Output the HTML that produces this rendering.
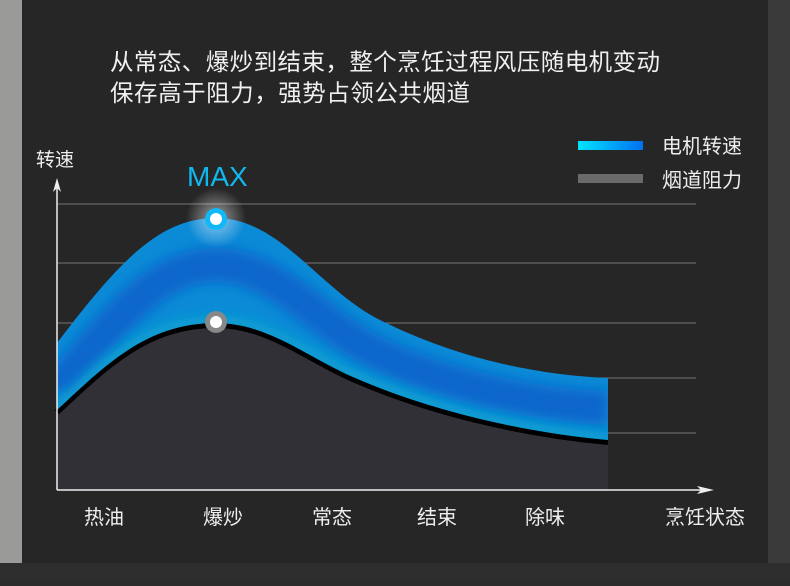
<!DOCTYPE html>
<html><head><meta charset="utf-8"><style>
body{margin:0;width:790px;height:581px;overflow:hidden;background:#2c2c2c;font-family:"Liberation Sans","Noto Sans CJK SC",sans-serif}
</style></head><body>
<svg width="790" height="581" viewBox="0 0 790 581" xmlns="http://www.w3.org/2000/svg">
<defs>
<radialGradient id="glow" cx="0.5" cy="0.5" r="0.5">
<stop offset="0" stop-color="#fff" stop-opacity="0.55"/>
<stop offset="1" stop-color="#fff" stop-opacity="0"/>
</radialGradient>
<linearGradient id="leg" x1="0" x2="1"><stop offset="0" stop-color="#00e4ff"/><stop offset="1" stop-color="#0070f0"/></linearGradient>
<filter id="bl" filterUnits="userSpaceOnUse" x="0" y="150" width="700" height="350"><feGaussianBlur stdDeviation="6"/></filter>
<clipPath id="band"><path d="M57,343 C120,260 160,218 216,218 C280,218 320,290 380,320 C450,355 530,375 608,378 L608,440 C520,432 430,410 360,380 C310,360 270,323 216,323 C150,323 110,360 57,410 Z"/></clipPath>
</defs>
<rect x="0" y="0" width="22" height="581" fill="#9a9a98"/>
<rect x="768" y="0" width="22" height="581" fill="#3a3a3a"/>
<rect x="0" y="563" width="790" height="18" fill="#2e2e2e"/>
<rect x="22" y="0" width="746" height="563" fill="#262626"/>
<text x="110" y="70" fill="#f0f0f0" font-size="23.5" textLength="550">从常态、爆炒到结束，整个烹饪过程风压随电机变动</text>
<text x="110" y="101" fill="#f0f0f0" font-size="23.5" textLength="360">保存高于阻力，强势占领公共烟道</text>
<text x="36" y="166" fill="#eee" font-size="19">转速</text>
<text x="187" y="186" fill="#11b8f0" font-size="28">MAX</text>
<rect x="578" y="141" width="65" height="9" fill="url(#leg)"/>
<rect x="578" y="174" width="65" height="9" fill="#6a6a6a"/>
<text x="662" y="153" fill="#eee" font-size="20">电机转速</text>
<text x="662" y="187" fill="#eee" font-size="20">烟道阻力</text>
<g stroke="#777" stroke-width="1">
<line x1="57" y1="204" x2="696" y2="204"/><line x1="57" y1="263" x2="696" y2="263"/>
<line x1="57" y1="323" x2="696" y2="323"/><line x1="57" y1="378" x2="696" y2="378"/>
<line x1="57" y1="433" x2="696" y2="433"/></g>
<path d="M57,413 C110,363 150,326 216,326 C270,326 310,363 360,383 C430,413 520,435 608,443 L608,490 L57,490 Z" fill="#303036"/>
<path d="M57,412 C110,362 150,325 216,325 C270,325 310,362 360,382 C430,412 520,434 608,442" fill="none" stroke="#000" stroke-width="6"/>
<g clip-path="url(#band)">
<rect x="50" y="200" width="570" height="250" fill="#0b8ad6"/>
<path d="M57,390 C115,320 155,265 216,265 C275,265 315,320 370,350 C440,385 530,405 608,408" fill="none" stroke="#0a66cc" stroke-width="34" filter="url(#bl)"/>
<path d="M57,410 C110,360 150,323 216,323 C270,323 310,360 360,380 C430,410 520,432 608,440" fill="none" stroke="#0aa0d0" stroke-width="14" filter="url(#bl)"/>
</g>
<circle cx="216" cy="218" r="30" fill="url(#glow)"/>
<circle cx="216" cy="219" r="11" fill="#10b8f8"/>
<circle cx="216" cy="219" r="6" fill="#fff"/>
<circle cx="216" cy="322" r="11" fill="#888"/>
<circle cx="216" cy="322" r="6" fill="#fff"/>
<line x1="57" y1="185" x2="57" y2="490" stroke="#eee" stroke-width="1.5"/>
<path d="M57,178 L61,192 L57,188 L53,192 Z" fill="#eee"/>
<line x1="57" y1="490" x2="705" y2="490" stroke="#eee" stroke-width="1.5"/>
<path d="M714,490 L697,486 L701,490 L697,494 Z" fill="#eee"/>
<g fill="#eee" font-size="20">
<text x="84" y="524">热油</text><text x="203" y="524">爆炒</text><text x="312" y="524">常态</text>
<text x="417" y="524">结束</text><text x="525" y="524">除味</text><text x="665" y="524">烹饪状态</text></g>
</svg>
</body></html>
